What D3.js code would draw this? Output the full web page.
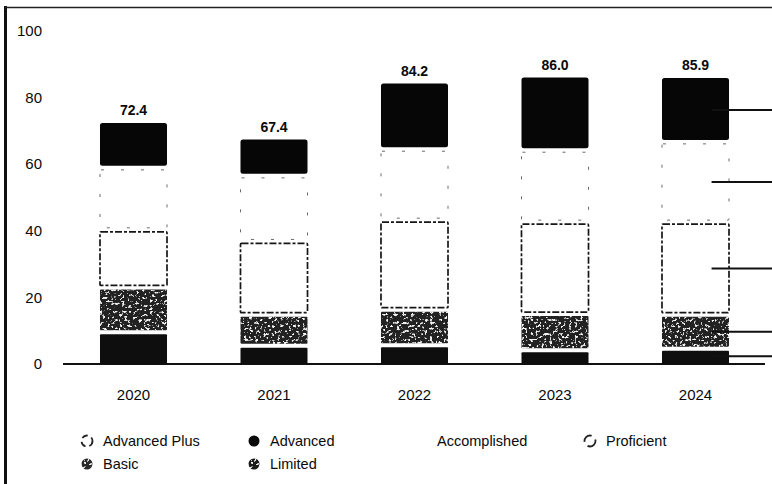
<!DOCTYPE html>
<html>
<head>
<meta charset="utf-8">
<script src="https://cdn.jsdelivr.net/npm/d3@7"></script>
<style>
  html, body { margin: 0; padding: 0; background: #fff; }
  svg { display: block; font-family: "Liberation Sans", Arial, Helvetica, sans-serif; }
</style>
</head>
<body>
<svg id="chart" width="772" height="484"></svg>
<script>
// Share of students at each performance level, by year (percent)
const years        = ["2020", "2021", "2022", "2023", "2024"];
const limited      = [9.5, 5.5, 5.6, 4.1, 4.6];
const basic        = [13.5, 9.3, 10.7, 10.9, 10.2];
const proficient   = [17.3, 22.0, 26.9, 27.6, 27.8];
const accomplished = [18.6, 19.7, 21.3, 21.6, 24.1];
const advanced     = [13.5, 10.9, 19.7, 21.8, 19.2];
const advancedPlus = [0, 0, 0, 0, 0];
const yTicks       = [0, 20, 40, 60, 80, 100];

// Legend reads top level first, two rows of four
const legendNames = ["Advanced Plus", "Advanced", "Accomplished", "Proficient", "Basic", "Limited"];
// Stacking order, bottom to top
const stackKeys = ["Limited", "Basic", "Proficient", "Accomplished", "Advanced", "Advanced Plus"];

const seriesValues = {
  "Limited": limited, "Basic": basic, "Proficient": proficient,
  "Accomplished": accomplished, "Advanced": advanced, "Advanced Plus": advancedPlus
};
const table = years.map((yr, i) => {
  const row = { year: yr };
  stackKeys.forEach(k => { row[k] = seriesValues[k][i]; });
  return row;
});

const svg = d3.select("#chart");
const W = 772, H = 484;

// Visual style of each level
const styles = {
  "Limited":       { fill: "#0e0e0e", stroke: "none", dash: null, width: 0, rx: 1, grain: false },
  "Basic":         { fill: "#222222", stroke: "none", dash: null, width: 0, rx: 1, grain: true },
  "Proficient":    { fill: "#ffffff", stroke: "#161616", dash: "7 2 3 2", width: 1.7, rx: 1, grain: false },
  "Accomplished":  { fill: "#ffffff", stroke: "#6a6a6a", dash: "3 17", width: 1, rx: 1, grain: false },
  "Advanced":      { fill: "#060606", stroke: "none", dash: null, width: 0, rx: 2.5, grain: false },
  "Advanced Plus": { fill: "#ffffff", stroke: "#2a2a2a", dash: "3 3", width: 1.2, rx: 1, grain: false }
};

// Speckled texture for the stippled fills
const defs = svg.append("defs");
const grain = defs.append("filter").attr("id", "grain")
  .attr("x", 0).attr("y", 0).attr("width", 1).attr("height", 1);
grain.append("feTurbulence").attr("type", "fractalNoise")
  .attr("baseFrequency", 0.36).attr("numOctaves", 3).attr("seed", 11).attr("result", "noise");
grain.append("feColorMatrix").attr("in", "noise").attr("type", "matrix")
  .attr("values", "0 0 0 0 0.9  0 0 0 0 0.9  0 0 0 0 0.9  -9 0 0 0 3.75")
  .attr("result", "specks");
grain.append("feComposite").attr("in", "specks").attr("in2", "SourceGraphic")
  .attr("operator", "in").attr("result", "clipped");
const merge = grain.append("feMerge");
merge.append("feMergeNode").attr("in", "SourceGraphic");
merge.append("feMergeNode").attr("in", "clipped");

svg.append("rect").attr("width", W).attr("height", H).attr("fill", "#fff");

// Page frame
svg.append("line").attr("x1", 5.5).attr("x2", 5.5).attr("y1", 6).attr("y2", H)
  .attr("stroke", "#111").attr("stroke-width", 3);
svg.append("line").attr("x1", 5).attr("x2", W).attr("y1", 7.5).attr("y2", 7.5)
  .attr("stroke", "#222").attr("stroke-width", 1.6);

// Scales
const x = d3.scaleBand().domain(years)
  .range([63.25, 765.75]).paddingInner(0.523).paddingOuter(0.2615);
const y = d3.scaleLinear().domain([0, 100]).range([364, 31]);

// Y tick labels (no axis line)
svg.append("g").selectAll("text").data(yTicks).join("text")
  .attr("x", 42).attr("y", d => y(d)).attr("dy", "0.35em")
  .attr("text-anchor", "end").attr("font-size", 15).attr("fill", "#0a0a0a")
  .text(d => d);

// Baseline
svg.append("line").attr("x1", 63).attr("x2", 765).attr("y1", y(0)).attr("y2", y(0))
  .attr("stroke", "#111").attr("stroke-width", 2);

// Stacked bars; internal boundaries are separated by a white gap
const stacked = d3.stack().keys(stackKeys)(table);
const gap = 4;
const totals = table.map(r => d3.sum(stackKeys, k => r[k]));

function segTop(d) {
  const total = d3.sum(stackKeys, k => d.data[k]);
  return y(d[1]) + (d[1] < total - 1e-9 ? gap / 2 : 0);
}
function segBottom(d) {
  return y(d[0]) - (d[0] > 0 ? gap / 2 : 0);
}

const layers = svg.append("g").selectAll("g").data(stacked).join("g");
layers.each(function (layer) {
  const st = styles[layer.key];
  d3.select(this).selectAll("rect")
    .data(layer.filter(d => d[1] - d[0] > 0))
    .join("rect")
    .attr("x", d => x(d.data.year))
    .attr("width", x.bandwidth())
    .attr("y", d => segTop(d))
    .attr("height", d => Math.max(0, segBottom(d) - segTop(d)))
    .attr("rx", st.rx)
    .attr("fill", st.fill)
    .attr("stroke", st.stroke)
    .attr("stroke-width", st.width)
    .attr("stroke-dasharray", st.dash)
    .attr("filter", st.grain ? "url(#grain)" : null);
});

// Total above each bar
svg.append("g").selectAll("text").data(table).join("text")
  .attr("x", d => x(d.year) + x.bandwidth() / 2)
  .attr("y", (d, i) => y(totals[i]) - 8)
  .attr("text-anchor", "middle")
  .attr("font-size", 14).attr("font-weight", "bold").attr("fill", "#0a0a0a")
  .text((d, i) => d3.format(".1f")(totals[i]));

// Leader lines from the last bar's segments toward the right edge
const lastIdx = years.length - 1;
const leaderStart = x(years[lastIdx]) + x.bandwidth() * 0.74;
svg.append("g").selectAll("line")
  .data(stacked.map(s => s[lastIdx]).filter(d => d[1] - d[0] > 0))
  .join("line")
  .attr("x1", leaderStart).attr("x2", W)
  .attr("y1", d => y((d[0] + d[1]) / 2)).attr("y2", d => y((d[0] + d[1]) / 2))
  .attr("stroke", "#111").attr("stroke-width", 2);

// Year labels
svg.append("g").selectAll("text").data(years).join("text")
  .attr("x", d => x(d) + x.bandwidth() / 2).attr("y", 400)
  .attr("text-anchor", "middle").attr("font-size", 15).attr("fill", "#0a0a0a")
  .text(d => d);

// Legend
const legendCols = [87, 254, 421, 590];
const legendRows = [441, 464];
const legendSymbol = {
  "Advanced Plus": { fill: "#fff", stroke: "#222", dash: "6 4", grain: false },
  "Advanced":      { fill: "#0a0a0a", stroke: "none", dash: null, grain: false },
  "Accomplished":  { fill: "none", stroke: "none", dash: null, grain: false },
  "Proficient":    { fill: "#fff", stroke: "#222", dash: "11 5", grain: false },
  "Basic":         { fill: "#2a2a2a", stroke: "none", dash: null, grain: true },
  "Limited":       { fill: "#1a1a1a", stroke: "none", dash: null, grain: true }
};
const legend = svg.append("g").selectAll("g").data(legendNames).join("g")
  .attr("transform", (d, i) => `translate(${legendCols[i % 4]},${legendRows[Math.floor(i / 4)]})`);
legend.append("circle").attr("r", 5.5)
  .attr("fill", d => legendSymbol[d].fill)
  .attr("stroke", d => legendSymbol[d].stroke)
  .attr("stroke-width", 1.8)
  .attr("stroke-dasharray", d => legendSymbol[d].dash)
  .attr("filter", d => legendSymbol[d].grain ? "url(#grain)" : null);
legend.append("text").attr("x", 16).attr("dy", "0.35em")
  .attr("font-size", 14.5).attr("fill", "#0a0a0a")
  .text(d => d);
</script>
</body>
</html>
